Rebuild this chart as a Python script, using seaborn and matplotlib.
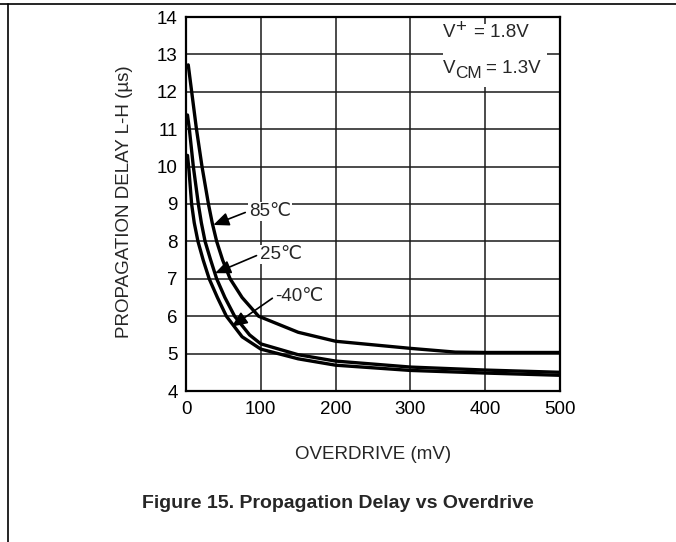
import matplotlib
matplotlib.use("Agg")
import matplotlib.pyplot as plt
from matplotlib.lines import Line2D
from matplotlib.patches import Rectangle
import seaborn as sns
import pandas as pd

# ---- data ----
od_m40 = [2, 4, 7.5, 11, 16, 23, 31, 42, 54, 75, 100, 150, 200, 300, 400, 500]
td_m40 = [10.3, 9.9, 9.0, 8.5, 8.0, 7.5, 7.0, 6.5, 6.0, 5.45, 5.12, 4.86, 4.69, 4.55, 4.48, 4.42]

od_25 = [2, 4.5, 9.8, 16.5, 20.5, 25.5, 33, 41, 52, 65, 85, 100, 150, 200, 300, 400, 500]
td_25 = [11.38, 11.0, 10.0, 9.0, 8.5, 8.0, 7.5, 7.0, 6.5, 6.0, 5.5, 5.26, 4.97, 4.8, 4.64, 4.56, 4.5]

od_85 = [3, 7.6, 14, 21.4, 30, 35, 41, 49, 59, 75, 97, 150, 200, 300, 360, 400, 500]
td_85 = [12.72, 12.0, 11.0, 10.0, 9.0, 8.5, 8.0, 7.5, 7.0, 6.5, 6.0, 5.57, 5.33, 5.14, 5.04, 5.03, 5.03]

x_ticks = [0, 100, 200, 300, 400, 500]
y_ticks = [4, 5, 6, 7, 8, 9, 10, 11, 12, 13, 14]

labels = ["-40℃", "25℃", "85℃"]

sns.set_style("white")
plt.rcParams["font.family"] = ["Liberation Sans", "DejaVu Sans"]

FS = 13.5
fig = plt.figure(figsize=(6.76, 5.42), dpi=100)
ax = fig.add_axes([186 / 676, 1 - 391 / 542, 374 / 676, 374 / 542])

frames = []
for lab, xs, ys in zip(labels, [od_m40, od_25, od_85], [td_m40, td_25, td_85]):
    frames.append(pd.DataFrame({"od": xs, "td": ys, "T": lab}))
df = pd.concat(frames, ignore_index=True)

sns.lineplot(data=df, x="od", y="td", units="T", estimator=None, color="black",
             linewidth=2.4, ax=ax, zorder=3, legend=False, sort=False)

ax.set_xlim(0, 500)
ax.set_ylim(4, 14)
ax.set_xticks(x_ticks)
ax.set_yticks(y_ticks)
ax.tick_params(axis="both", length=0, labelsize=FS, colors="black")
ax.tick_params(axis="y", pad=6)
ax.tick_params(axis="x", pad=7)
ax.grid(True, color="#1a1a1a", linewidth=1.1, zorder=0.5)
ax.set_axisbelow(True)
for s in ax.spines.values():
    s.set_color("black")
    s.set_linewidth(1.6)
    s.set_zorder(4)

ax.set_xlabel("OVERDRIVE (mV)", fontsize=FS)
ax.set_ylabel("PROPAGATION DELAY L-H (µs)", fontsize=FS)
ax.xaxis.set_label_coords(0.5, -0.147)
ax.yaxis.set_label_coords(-0.141, 0.505)

# white box behind the condition text
ax.add_patch(Rectangle((343.6, 12.13), 139, 1.68, facecolor="white",
                       edgecolor="none", zorder=1))
x0 = 343.6
t1 = ax.text(x0, 13.35, "V", fontsize=FS, ha="left", va="bottom", zorder=5)
ax.annotate("+", xy=(1, 1), xycoords=t1, xytext=(0, -2), textcoords="offset points",
            fontsize=FS, ha="left", va="center", zorder=5)
ax.annotate("= 1.8V", xy=(1, 0), xycoords=t1, xytext=(13, 0), textcoords="offset points",
            fontsize=FS, ha="left", va="bottom", zorder=5)
t2 = ax.text(x0, 12.40, "V", fontsize=FS, ha="left", va="bottom", zorder=5)
t3 = ax.annotate("CM", xy=(1, 0), xycoords=t2, xytext=(0, -3), textcoords="offset points",
                 fontsize=FS * 0.92, ha="left", va="bottom", zorder=5)
ax.annotate("= 1.3V", xy=(1, 0), xycoords=t3, xytext=(3, 3), textcoords="offset points",
            fontsize=FS, ha="left", va="bottom", zorder=5)

# curve annotations
ann = [("85℃", (112, 8.81), (36.5, 8.44)),
       ("25℃", (127, 7.66), (38.8, 7.15)),
       ("-40℃", (152, 6.54), (61, 5.72))]
for txt, xyt, xy in ann:
    ax.annotate(txt, xy=xy, xytext=xyt, fontsize=FS, ha="center", va="center",
                zorder=6,
                bbox=dict(boxstyle="square,pad=0.05", fc="white", ec="none"),
                arrowprops=dict(arrowstyle="-|>,head_length=0.7,head_width=0.3",
                                color="black", lw=1.2, shrinkA=2, shrinkB=0,
                                relpos=(0, 0.5)))

fig.text(0.5, 1 - 503 / 542, "Figure 15. Propagation Delay vs Overdrive",
         ha="center", va="center", fontsize=14, fontweight="bold")

# page border lines
fig.add_artist(Line2D([0, 1], [1 - 3.5 / 542, 1 - 3.5 / 542], color="black", lw=1.2,
                      transform=fig.transFigure))
fig.add_artist(Line2D([7.5 / 676, 7.5 / 676], [0, 1 - 3.5 / 542], color="black", lw=1.2,
                      transform=fig.transFigure))

fig.savefig("out.png", dpi=100)
